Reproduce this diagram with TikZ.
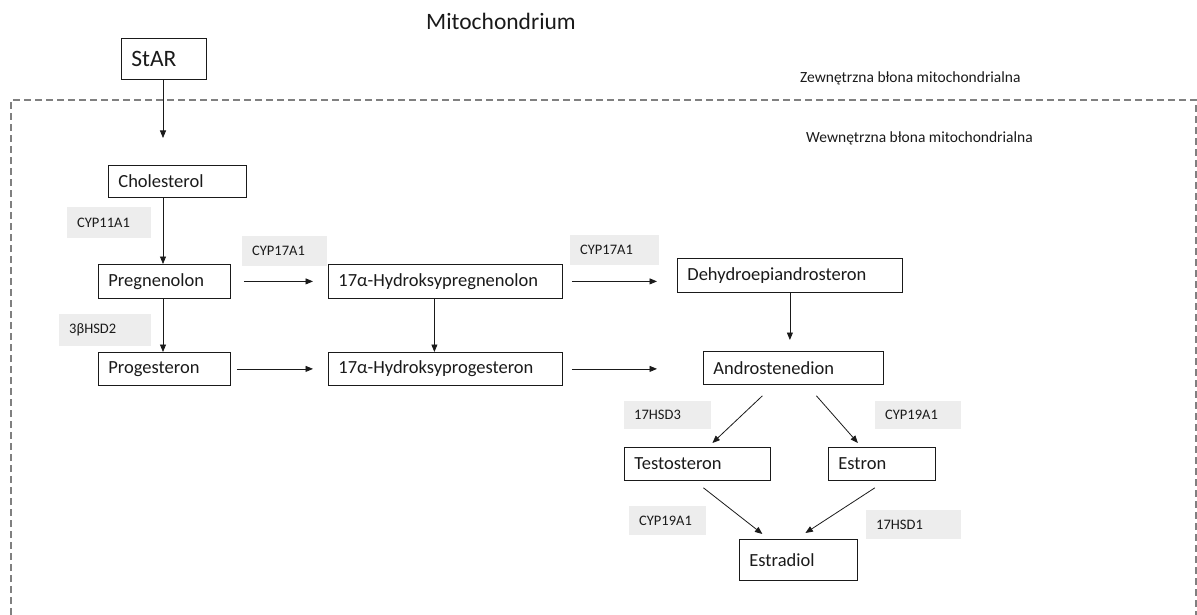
\documentclass[tikz,border=0pt]{standalone}
\usepackage{fontspec}
\setmainfont{Carlito}
\usetikzlibrary{arrows.meta}
\definecolor{ink}{HTML}{1A1A1A}
\definecolor{enzfill}{HTML}{EDEDED}
\definecolor{dashgray}{HTML}{808080}
\begin{document}
\begin{tikzpicture}[x=1pt,y=1pt,
  box/.style={draw=ink, line width=0.8pt, anchor=north west, inner xsep=10pt, inner ysep=0pt,
              align=left, font=\fontsize{18.5}{20}\selectfont, text=ink},
  enz/.style={fill=enzfill, anchor=north west, inner xsep=10pt, inner ysep=0pt,
              align=left, font=\fontsize{14.5}{16}\selectfont, text=ink},
  memb/.style={anchor=west, inner sep=0pt, font=\fontsize{15.5}{17}\selectfont, text=ink},
  arr/.style={-{Triangle[length=7.5pt,width=6pt]}, line width=0.8pt, draw=ink}]
\useasboundingbox (0,0) rectangle (1197,-615);
% title and membranes
\node[inner sep=0pt, font=\fontsize{23.5}{26}\selectfont, text=ink] (title) at (501,-21) {Mitochondrium};
\draw[dashgray, line width=1.2pt, dash pattern=on 7pt off 4pt] (11,-615) -- (11,-100) -- (1196,-100) -- (1196,-615);
\node[memb] (outer) at (800,-78) {Zewnętrzna błona mitochondrialna};
\node[memb] (inner) at (806,-138) {Wewnętrzna błona mitochondrialna};
% boxes
\node[box, font=\fontsize{23.5}{26}\selectfont, text width=65pt, minimum height=41pt] (star) at (121,-38) {StAR};
\node[box, text width=118pt, minimum height=32pt] (chol) at (108,-165) {Cholesterol};
\node[box, text width=112pt, minimum height=34pt] (preg) at (98,-264) {Pregnenolon};
\node[box, text width=112pt, minimum height=33pt] (prog) at (98,-352) {Progesteron};
\node[box, text width=214pt, minimum height=34pt] (hpreg) at (328,-264) {17α-Hydroksypregnenolon};
\node[box, text width=214pt, minimum height=33pt] (hprog) at (328,-352) {17α-Hydroksyprogesteron};
\node[box, text width=205pt, minimum height=34pt] (dhea) at (677,-258) {Dehydroepiandrosteron};
\node[box, text width=160pt, minimum height=33pt] (andro) at (703,-351) {Androstenedion};
\node[box, text width=126pt, minimum height=33pt] (testo) at (624,-447) {Testosteron};
\node[box, text width=87pt, minimum height=33pt] (estron) at (828,-447) {Estron};
\node[box, text width=98pt, minimum height=41pt] (estradiol) at (739,-539) {Estradiol};
% enzymes
\node[enz, text width=64pt, minimum height=31pt] (e1) at (67,-207) {CYP11A1};
\node[enz, text width=72pt, minimum height=32pt] (e2) at (59,-314) {3βHSD2};
\node[enz, text width=65pt, minimum height=30pt] (e3) at (242,-236) {CYP17A1};
\node[enz, text width=69pt, minimum height=30pt] (e4) at (570,-235) {CYP17A1};
\node[enz, text width=67pt, minimum height=28pt] (e5) at (624,-401) {17HSD3};
\node[enz, text width=66pt, minimum height=28pt] (e6) at (875,-401) {CYP19A1};
\node[enz, text width=57pt, minimum height=29pt] (e7) at (629,-506) {CYP19A1};
\node[enz, text width=75pt, minimum height=29pt] (e8) at (866,-510) {17HSD1};
% connectors
\coordinate (starend) at (163,-138);
\draw[arr] (star.south -| starend) -- (starend);
\draw[arr] (chol.south -| starend) -- (preg.north -| starend);
\draw[arr] (preg.south -| starend) -- (prog.north -| starend);
\draw[arr, shorten <=13pt, shorten >=15pt] (preg.east) -- (preg.east -| hpreg.west);
\draw[arr, shorten <=6pt, shorten >=15pt] (prog.east) -- (prog.east -| hprog.west);
\draw[arr] ([xshift=-11pt]hpreg.south) -- ([xshift=-11pt]hpreg.south |- hprog.north);
\draw[arr, shorten <=9pt, shorten >=20pt] (hpreg.east) -- (hpreg.east -| dhea.west);
\draw[arr, shorten <=9pt, shorten >=46pt] (hprog.east) -- (hprog.east -| andro.west);
\draw[arr, shorten >=11pt] (dhea.south) -- (dhea.south |- andro.north);
\draw[arr] ([shift={(-31,-11)}]andro.south) -- ([shift={(15,4)}]testo.north);
\draw[arr] ([shift={(23,-11)}]andro.south) -- ([shift={(-24,4)}]estron.north);
\draw[arr] ([shift={(6,-7)}]testo.south) -- ([shift={(-36,5)}]estradiol.north);
\draw[arr] ([shift={(-7,-7)}]estron.south) -- ([shift={(7,6)}]estradiol.north);
\end{tikzpicture}
\end{document}
